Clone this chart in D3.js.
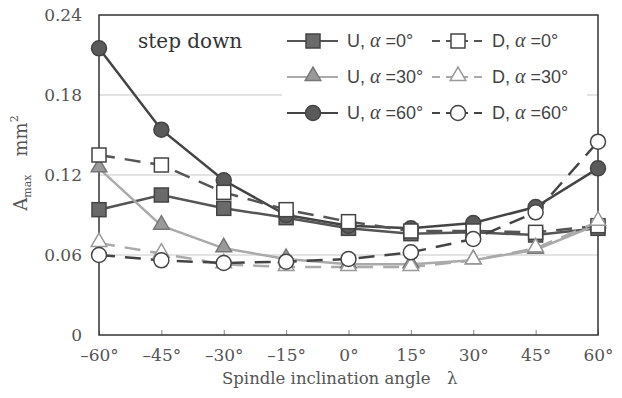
<!DOCTYPE html>
<html>
<head>
<meta charset="utf-8">
<script src="https://cdn.jsdelivr.net/npm/d3@7"></script>
<style>
  body { margin: 0; background: #fff; }
  svg { display: block; }
</style>
</head>
<body>
<svg id="chart" width="622" height="398"></svg>
<script>
const angles = [-60, -45, -30, -15, 0, 15, 30, 45, 60];
const u0  = [0.094, 0.105, 0.095, 0.088, 0.080, 0.076, 0.077, 0.075, 0.080];
const d0  = [0.135, 0.1275, 0.107, 0.094, 0.085, 0.078, 0.078, 0.077, 0.082];
const u30 = [0.125, 0.082, 0.065, 0.057, 0.053, 0.053, 0.056, 0.064, 0.083];
const d30 = [0.069, 0.061, 0.053, 0.051, 0.051, 0.051, 0.056, 0.065, 0.085];
const u60 = [0.215, 0.154, 0.116, 0.090, 0.082, 0.080, 0.084, 0.096, 0.125];
const d60 = [0.060, 0.056, 0.054, 0.055, 0.057, 0.062, 0.072, 0.092, 0.145];
const yTicks = [0, 0.06, 0.12, 0.18, 0.24];

// series styling, drawn in this order
const series = [
  { name: "U", a: "0",  values: u0,  shape: "square",   line: "#555", dash: null,    fill: "#6a6a6a", stroke: "#444" },
  { name: "U", a: "30", values: u30, shape: "triangle", line: "#aaa", dash: null,    fill: "#9a9a9a", stroke: "#777" },
  { name: "U", a: "60", values: u60, shape: "circle",   line: "#444", dash: null,    fill: "#5a5a5a", stroke: "#444" },
  { name: "D", a: "0",  values: d0,  shape: "square",   line: "#555", dash: "16,10", fill: "#fff",    stroke: "#444" },
  { name: "D", a: "30", values: d30, shape: "triangle", line: "#aaa", dash: "16,10", fill: "#fff",    stroke: "#999" },
  { name: "D", a: "60", values: d60, shape: "circle",   line: "#444", dash: "16,10", fill: "#fff",    stroke: "#444" }
];

const svg = d3.select("#chart");
const pLeft = 99, pRight = 598, pTop = 15, pBottom = 335;

const x = d3.scaleLinear().domain([-60, 60]).range([pLeft, pRight]);
const y = d3.scaleLinear().domain([0, 0.24]).range([pBottom, pTop]);

const serif = "'DejaVu Serif', 'Liberation Serif', serif";
const sans = "'Liberation Sans', Arial, sans-serif";

// gridlines
svg.append("g").selectAll("line")
  .data(yTicks.slice(1, 4))
  .enter().append("line")
  .attr("x1", pLeft).attr("x2", pRight)
  .attr("y1", d => y(d)).attr("y2", d => y(d))
  .attr("stroke", "#c8c8c8").attr("stroke-width", 1);

// x axis with inward ticks
const xAxis = svg.append("g")
  .attr("transform", "translate(0," + pBottom + ")")
  .call(d3.axisBottom(x).tickValues(angles).tickSizeInner(-5).tickSizeOuter(0)
    .tickFormat(d => (d < 0 ? "\u2013" + (-d) : d) + "\u00b0"));
xAxis.select(".domain").remove();
xAxis.selectAll("line").attr("stroke", "#888");
xAxis.selectAll("text")
  .attr("y", 20).attr("dy", "0.35em")
  .attr("font-family", serif).attr("font-size", 17).attr("fill", "#555");

// y axis labels
const yAxis = svg.append("g")
  .attr("transform", "translate(" + pLeft + ",0)")
  .call(d3.axisLeft(y).tickValues(yTicks).tickSize(0)
    .tickFormat(d => d === 0 ? "0" : d3.format(".2f")(d)));
yAxis.select(".domain").remove();
yAxis.selectAll("text")
  .attr("x", -17)
  .attr("font-family", serif).attr("font-size", 17).attr("fill", "#555");

// frame
svg.append("rect")
  .attr("x", pLeft).attr("y", pTop)
  .attr("width", pRight - pLeft).attr("height", pBottom - pTop)
  .attr("fill", "none").attr("stroke", "#333").attr("stroke-width", 1.5);

// legend background covers gridline
svg.append("rect")
  .attr("x", 282).attr("y", 22).attr("width", 305).attr("height", 108)
  .attr("fill", "#fff");

function drawMarker(g, shape, cx, cy, s) {
  let m;
  if (shape === "square") {
    m = g.append("rect").attr("x", cx - 7).attr("y", cy - 7).attr("width", 14).attr("height", 14);
  } else if (shape === "circle") {
    m = g.append("circle").attr("cx", cx).attr("cy", cy).attr("r", 7.5);
  } else {
    m = g.append("path").attr("d", d3.symbol(d3.symbolTriangle, 105)())
      .attr("transform", "translate(" + cx + "," + (cy - 1) + ")");
  }
  m.attr("fill", s.fill).attr("stroke", s.stroke).attr("stroke-width", 1.5);
}

const line = d3.line().x((d, i) => x(angles[i])).y(d => y(d));

// lines
series.forEach(s => {
  svg.append("path")
    .datum(s.values)
    .attr("d", line)
    .attr("fill", "none")
    .attr("stroke", s.line)
    .attr("stroke-width", 2.5)
    .attr("stroke-dasharray", s.dash);
});

// markers
series.forEach(s => {
  const g = svg.append("g");
  s.values.forEach((v, i) => drawMarker(g, s.shape, x(angles[i]), y(v), s));
});

// legend
const rowY = { "0": 41, "30": 77, "60": 113 };
series.forEach(s => {
  const yy = rowY[s.a];
  const g = svg.append("g");
  const x0 = s.name === "U" ? 287 : 432;
  const x1 = s.name === "U" ? 338 : 482;
  const mx = s.name === "U" ? 313 : 458;
  g.append("line")
    .attr("x1", x0).attr("x2", x1).attr("y1", yy).attr("y2", yy)
    .attr("stroke", s.line).attr("stroke-width", 2.2)
    .attr("stroke-dasharray", s.dash ? "8,6" : null);
  drawMarker(g, s.shape, mx, yy, s);
  const t = g.append("text")
    .attr("x", s.name === "U" ? 347 : 492).attr("y", yy).attr("dy", "0.36em")
    .attr("font-family", sans).attr("font-size", 18).attr("fill", "#444");
  t.append("tspan").text(s.name + ", ");
  t.append("tspan").attr("font-style", "italic").attr("font-family", "'Liberation Serif', serif").attr("font-size", 20).text("\u03b1");
  t.append("tspan").text(" =" + s.a + "\u00b0");
});

// annotation
svg.append("text")
  .attr("x", 138).attr("y", 48)
  .attr("font-family", serif).attr("font-size", 20).attr("fill", "#333")
  .text("step down");

// axis titles
svg.append("text")
  .attr("x", 222).attr("y", 384)
  .attr("font-family", serif).attr("font-size", 16.5).attr("fill", "#555")
  .text("Spindle inclination angle\u2003\u03bb");

const yt = svg.append("text")
  .attr("transform", "translate(27,163) rotate(-90)")
  .attr("text-anchor", "middle")
  .attr("font-family", serif).attr("font-size", 18).attr("fill", "#555");
yt.append("tspan").text("A");
yt.append("tspan").attr("font-size", 11).attr("dy", 4).text("max");
yt.append("tspan").attr("dy", -4).attr("dx", 18).text("mm");
yt.append("tspan").attr("font-size", 11).attr("dy", -9).text("2");
</script>
</body>
</html>
